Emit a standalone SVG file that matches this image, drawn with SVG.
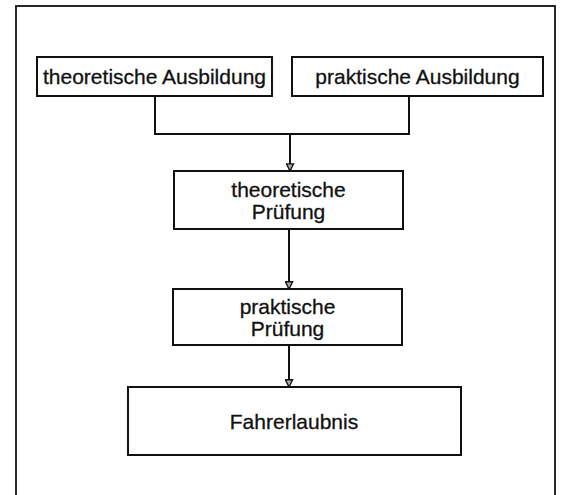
<svg xmlns="http://www.w3.org/2000/svg" width="568" height="495" viewBox="0 0 568 495">
<defs>
<style>
.box{fill:#fff;stroke:#111;stroke-width:2}
.t{font-family:"Liberation Sans",Arial,sans-serif;font-size:21px;fill:#111;stroke:#111;stroke-width:0.3;text-anchor:middle}
.c{fill:none;stroke:#111;stroke-width:2}
</style>
<marker id="ah" viewBox="0 0 10 10" refX="9" refY="5" markerWidth="9" markerHeight="9" markerUnits="userSpaceOnUse" orient="auto">
<path d="M1,1 L9,5 L1,9 Z" fill="#aaa" stroke="#111" stroke-width="1.5"/>
</marker>
</defs>
<rect width="568" height="495" fill="#fff"/>
<rect x="16" y="6" width="539" height="500" fill="none" stroke="#111" stroke-width="1.8"/>
<g id="connectors">
<path class="c" d="M155,96 V134 H409 V96"/>
<path class="c" d="M290,134 V171" marker-end="url(#ah)"/>
<path class="c" d="M289,229 V289" marker-end="url(#ah)"/>
<path class="c" d="M289,345 V387" marker-end="url(#ah)"/>
</g>
<g id="theorie-ausbildung">
<rect class="box" x="37" y="57" width="235" height="39"/>
<text class="t" x="154.5" y="84">theoretische Ausbildung</text>
</g>
<g id="praxis-ausbildung">
<rect class="box" x="292" y="57" width="251" height="39"/>
<text class="t" x="417.5" y="84">praktische Ausbildung</text>
</g>
<g id="theorie-pruefung">
<rect class="box" x="174" y="171" width="229" height="58"/>
<text class="t" x="288.5" y="197">theoretische</text>
<text class="t" x="288.5" y="219">Prüfung</text>
</g>
<g id="praxis-pruefung">
<rect class="box" x="173" y="289" width="229" height="56"/>
<text class="t" x="287.5" y="314">praktische</text>
<text class="t" x="287.5" y="336">Prüfung</text>
</g>
<g id="fahrerlaubnis">
<rect class="box" x="128" y="387" width="333" height="68"/>
<text class="t" x="294" y="429">Fahrerlaubnis</text>
</g>
</svg>
